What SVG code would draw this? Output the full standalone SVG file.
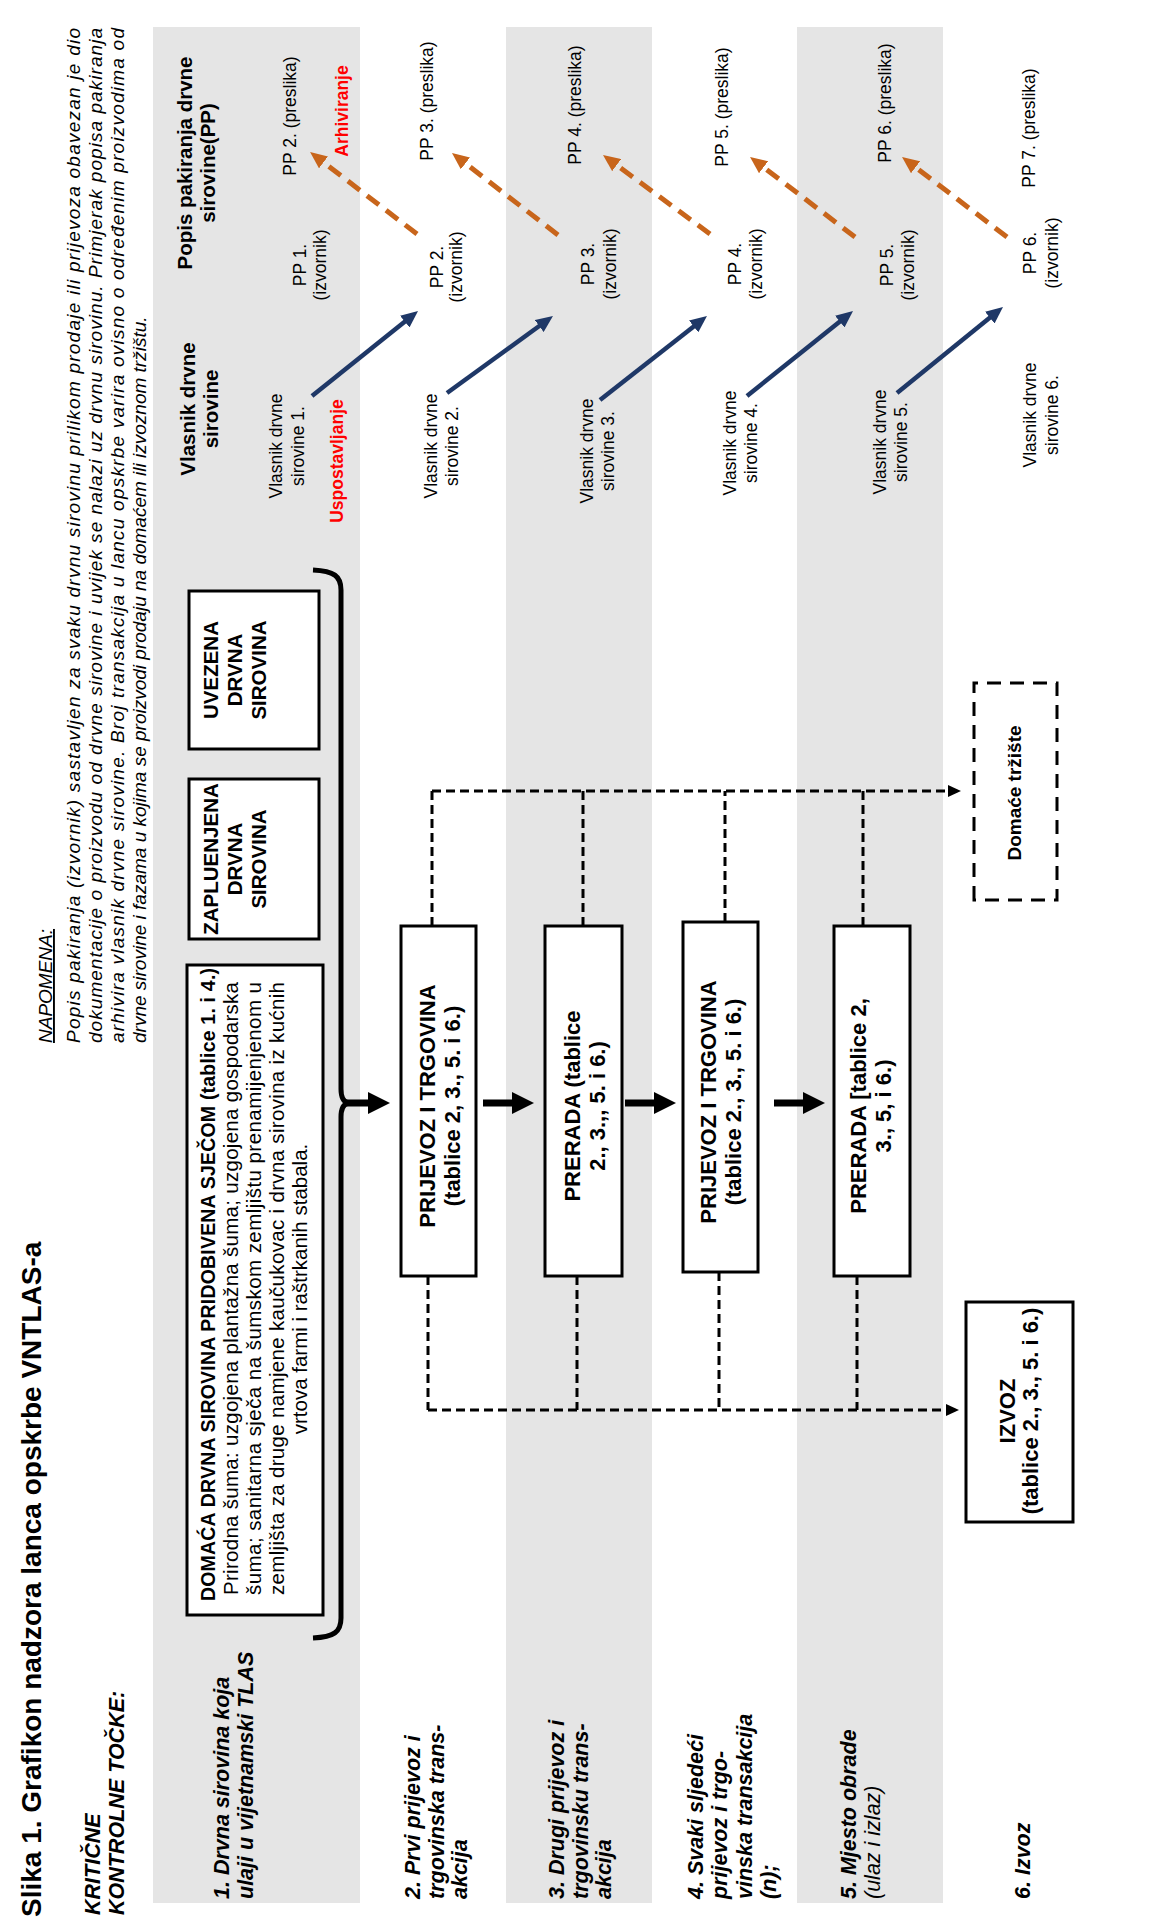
<svg xmlns="http://www.w3.org/2000/svg" width="1155" height="1929" viewBox="0 0 1155 1929">
<defs>
<style>
text{font-family:"Liberation Sans",Arial,Helvetica,sans-serif;fill:#000}
.band{fill:#e5e5e5}
.box{fill:#fff;stroke:#000;stroke-width:3}
.dbox{fill:#fff;stroke:#000;stroke-width:3;stroke-dasharray:14 9}
.lbl{font-size:21.5px;font-weight:bold;font-style:italic}
.hd{font-size:20.5px;font-weight:bold;text-anchor:middle}
.bx{font-size:22px;font-weight:bold;text-anchor:middle}
.bc{font-size:20.5px;font-weight:bold;text-anchor:middle}
.sm{font-size:17.5px;text-anchor:middle}
.red{fill:#ff0000;font-weight:bold;font-size:17.5px;text-anchor:middle}
.note{font-size:19px;font-style:italic}
.dash{fill:none;stroke:#000;stroke-width:3;stroke-dasharray:9 5}
.thick{fill:none;stroke:#000;stroke-width:7}
.navy{fill:none;stroke:#1f3867;stroke-width:4.5}
.orange{fill:none;stroke:#c8651b;stroke-width:5;stroke-dasharray:15 9}
</style>
<marker id="mThick" markerUnits="userSpaceOnUse" markerWidth="22" markerHeight="22" viewBox="0 0 22 22" refX="10" refY="11" orient="auto"><path d="M0,0 L22,11 L0,22 z" fill="#000"/></marker>
<marker id="mDash" markerUnits="userSpaceOnUse" markerWidth="13" markerHeight="12" viewBox="0 0 13 12" refX="5" refY="6" orient="auto"><path d="M0,0 L13,6 L0,12 z" fill="#000"/></marker>
<marker id="mNavy" markerUnits="userSpaceOnUse" markerWidth="17" markerHeight="15" viewBox="0 0 17 15" refX="9" refY="7.5" orient="auto"><path d="M0,0 L17,7.5 L0,15 z" fill="#1f3867"/></marker>
<marker id="mOrange" markerUnits="userSpaceOnUse" markerWidth="17" markerHeight="15" viewBox="0 0 17 15" refX="9" refY="7.5" orient="auto"><path d="M0,0 L17,7.5 L0,15 z" fill="#c8651b"/></marker>
</defs>
<rect width="1155" height="1929" fill="#fff"/>
<g transform="translate(0,1929) rotate(-90)">
  <g id="bands">
    <rect class="band" x="26" y="153" width="1876" height="207"/>
    <rect class="band" x="26" y="506" width="1876" height="146"/>
    <rect class="band" x="26" y="797" width="1876" height="146"/>
  </g>
  <g id="title">
    <text x="12" y="41" font-size="28" font-weight="bold">Slika 1. Grafikon nadzora lanca opskrbe VNTLAS-a</text>
    <text class="lbl" x="14" y="100">KRITIČNE</text>
    <text class="lbl" x="14" y="124">KONTROLNE TOČKE:</text>
  </g>
  <g id="note">
    <text class="note" x="886" y="52" text-decoration="underline">NAPOMENA:</text>
    <text class="note" x="886" y="80" textLength="1015" lengthAdjust="spacing">Popis pakiranja (izvornik) sastavljen za svaku drvnu sirovinu prilikom prodaje ili prijevoza obavezan je dio</text>
    <text class="note" x="886" y="102" textLength="1015" lengthAdjust="spacing">dokumentacije o proizvodu od drvne sirovine i uvijek se nalazi uz drvnu sirovinu. Primjerak popisa pakiranja</text>
    <text class="note" x="886" y="124" textLength="1015" lengthAdjust="spacing">arhivira vlasnik drvne sirovine. Broj transakcija u lancu opskrbe varira ovisno o određenim proizvodima od</text>
    <text class="note" x="886" y="146">drvne sirovine i fazama u kojima se proizvodi prodaju na domaćem ili izvoznom tržištu.</text>
  </g>
  <g id="row-labels">
    <text class="lbl" x="30" y="229">1. Drvna sirovina koja</text>
    <text class="lbl" x="30" y="253">ulaji u vijetnamski TLAS</text>
    <text class="lbl" x="30" y="420">2. Prvi prijevoz i</text>
    <text class="lbl" x="30" y="444">trgovinska trans-</text>
    <text class="lbl" x="30" y="467">akcija</text>
    <text class="lbl" x="30" y="564">3. Drugi prijevoz i</text>
    <text class="lbl" x="30" y="588">trgovinsku trans-</text>
    <text class="lbl" x="30" y="611">akcija</text>
    <text class="lbl" x="30" y="703">4. Svaki sljedeći</text>
    <text class="lbl" x="30" y="727">prijevoz i  trgo-</text>
    <text class="lbl" x="30" y="752">vinska transakcija</text>
    <text class="lbl" x="30" y="776">(n);</text>
    <text class="lbl" x="30" y="856">5. Mjesto obrade</text>
    <text x="30" y="880" font-size="21.5" font-style="italic">(ulaz i izlaz)</text>
    <text class="lbl" x="30" y="1030">6. Izvoz</text>
  </g>
  <g id="node-domaca">
    <rect class="box" x="314" y="187" width="650" height="136"/>
    <text x="328" y="215" font-size="19.5" font-weight="bold" textLength="633" lengthAdjust="spacing">DOMAĆA DRVNA SIROVINA PRIDOBIVENA SJEČOM (tablice 1. i 4.)</text>
    <text x="334" y="238" font-size="20.5" textLength="613" lengthAdjust="spacing">Prirodna šuma: uzgojena plantažna šuma; uzgojena gospodarska</text>
    <text x="334" y="261" font-size="20.5" textLength="613" lengthAdjust="spacing">šuma; sanitarna sječa na šumskom zemljištu prenamijenjenom u</text>
    <text x="334" y="284" font-size="20.5" textLength="613" lengthAdjust="spacing">zemljišta za druge namjene kaučukovac i drvna sirovina iz kućnih</text>
    <text x="640" y="307" font-size="20.5" text-anchor="middle">vrtova farmi i raštrkanih stabala.</text>
  </g>
  <g id="node-zapljenjena">
    <rect class="box" x="990" y="189" width="160" height="130"/>
    <text class="bc" x="1070" y="218">ZAPLUENJENA</text>
    <text class="bc" x="1070" y="242">DRVNA</text>
    <text class="bc" x="1070" y="266">SIROVINA</text>
  </g>
  <g id="node-uvezena">
    <rect class="box" x="1180" y="189" width="158" height="130"/>
    <text class="bc" x="1259" y="218">UVEZENA</text>
    <text class="bc" x="1259" y="242">DRVNA</text>
    <text class="bc" x="1259" y="266">SIROVINA</text>
  </g>
  <g id="node-prijevoz1">
    <rect class="box" x="653" y="401" width="350" height="75"/>
    <text class="bx" x="823" y="435">PRIJEVOZ I TRGOVINA</text>
    <text class="bx" x="823" y="460">(tablice 2, 3., 5. i 6.)</text>
  </g>
  <g id="node-prerada1">
    <rect class="box" x="653" y="545" width="350" height="77"/>
    <text class="bx" x="823" y="580">PRERADA (tablice</text>
    <text class="bx" x="823" y="605">2., 3.,, 5. i 6.)</text>
  </g>
  <g id="node-prijevoz2">
    <rect class="box" x="657" y="683" width="350" height="75"/>
    <text class="bx" x="827" y="716">PRIJEVOZ I TRGOVINA</text>
    <text class="bx" x="827" y="741">(tablice 2., 3., 5. i 6.)</text>
  </g>
  <g id="node-prerada2">
    <rect class="box" x="653" y="834" width="350" height="76"/>
    <text class="bx" x="823" y="866">PRERADA [tablice 2,</text>
    <text class="bx" x="823" y="891">3., 5, i 6.)</text>
  </g>
  <g id="node-domace-trziste">
    <rect class="dbox" x="1029" y="974" width="217" height="83"/>
    <text x="1136" y="1021" font-size="19" font-weight="bold" text-anchor="middle">Domaće tržište</text>
  </g>
  <g id="node-izvoz">
    <rect class="box" x="407" y="966" width="220" height="107"/>
    <text class="bx" x="518" y="1015">IZVOZ</text>
    <text class="bx" x="518" y="1038">(tablice 2., 3., 5. i 6.)</text>
  </g>
  <g id="headers">
    <text class="hd" x="1520" y="195">Vlasnik drvne</text>
    <text class="hd" x="1520" y="218">sirovine</text>
    <text class="hd" x="1766" y="192">Popis pakiranja drvne</text>
    <text class="hd" x="1766" y="215">sirovine(PP)</text>
  </g>
  <g id="row1-docs">
    <text class="sm" x="1483" y="282">Vlasnik drvne</text>
    <text class="sm" x="1483" y="304">sirovine 1.</text>
    <text class="red" x="1468" y="343">Uspostavljanje</text>
    <text class="sm" x="1664" y="306">PP 1.</text>
    <text class="sm" x="1664" y="326">(izvornik)</text>
    <text class="sm" x="1813" y="296">PP 2.  (preslika)</text>
    <text class="red" x="1818" y="348">Arhiviranje</text>
  </g>
  <g id="row2-docs">
    <text class="sm" x="1483" y="437">Vlasnik drvne</text>
    <text class="sm" x="1483" y="458">sirovine 2.</text>
    <text class="sm" x="1662" y="443">PP 2.</text>
    <text class="sm" x="1662" y="462">(izvornik)</text>
    <text class="sm" x="1828" y="433">PP 3.  (preslika)</text>
  </g>
  <g id="row3-docs">
    <text class="sm" x="1478" y="593">Vlasnik drvne</text>
    <text class="sm" x="1478" y="614">sirovine 3.</text>
    <text class="sm" x="1665" y="594">PP 3.</text>
    <text class="sm" x="1665" y="616">(izvornik)</text>
    <text class="sm" x="1824" y="581">PP 4. (preslika)</text>
  </g>
  <g id="row4-docs">
    <text class="sm" x="1486" y="736">Vlasnik drvne</text>
    <text class="sm" x="1486" y="757">sirovine 4.</text>
    <text class="sm" x="1665" y="741">PP 4.</text>
    <text class="sm" x="1665" y="762">(izvornik)</text>
    <text class="sm" x="1822" y="728">PP 5.  (preslika)</text>
  </g>
  <g id="row5-docs">
    <text class="sm" x="1487" y="886">Vlasnik drvne</text>
    <text class="sm" x="1487" y="907">sirovine 5.</text>
    <text class="sm" x="1664" y="893">PP 5.</text>
    <text class="sm" x="1664" y="914">(izvornik)</text>
    <text class="sm" x="1826" y="891">PP 6.  (preslika)</text>
  </g>
  <g id="row6-docs">
    <text class="sm" x="1514" y="1036">Vlasnik drvne</text>
    <text class="sm" x="1514" y="1058">sirovine 6.</text>
    <text class="sm" x="1676" y="1036">PP 6.</text>
    <text class="sm" x="1676" y="1058">(izvornik)</text>
    <text class="sm" x="1801" y="1035">PP 7.  (preslika)</text>
  </g>
  <g id="connectors">
    <path d="M291,313 C292,334 297,341 311,341 L812,341 Q824,341 826,348 Q828,341 840,341 L1339,341 C1353,341 1358,334 1359,313" fill="none" stroke="#000" stroke-width="5"/>
    <line class="thick" x1="826" y1="343" x2="826" y2="378" marker-end="url(#mThick)"/>
    <line class="thick" x1="826" y1="483" x2="826" y2="522" marker-end="url(#mThick)"/>
    <line class="thick" x1="826" y1="625" x2="826" y2="664" marker-end="url(#mThick)"/>
    <line class="thick" x1="826" y1="774" x2="826" y2="813" marker-end="url(#mThick)"/>
    <path class="dash" d="M1003,432 L1138,432"/>
    <path class="dash" d="M1003,583 L1138,583"/>
    <path class="dash" d="M1007,725 L1138,725"/>
    <path class="dash" d="M1003,863 L1138,863"/>
    <path class="dash" d="M1138,432 L1138,953" marker-end="url(#mDash)"/>
    <path class="dash" d="M653,428 L519,428"/>
    <path class="dash" d="M653,577 L519,577"/>
    <path class="dash" d="M657,719 L519,719"/>
    <path class="dash" d="M653,857 L519,857"/>
    <path class="dash" d="M519,428 L519,951" marker-end="url(#mDash)"/>
    <line class="navy" x1="1533" y1="312" x2="1613" y2="411.8" marker-end="url(#mNavy)"/>
    <line class="navy" x1="1536" y1="447" x2="1608.3" y2="546.5" marker-end="url(#mNavy)"/>
    <line class="navy" x1="1529" y1="600" x2="1608.1" y2="700.7" marker-end="url(#mNavy)"/>
    <line class="navy" x1="1533" y1="747" x2="1613" y2="846.8" marker-end="url(#mNavy)"/>
    <line class="navy" x1="1536" y1="897" x2="1617" y2="996.8" marker-end="url(#mNavy)"/>
    <line class="orange" x1="1695" y1="417" x2="1772.1" y2="316.4" marker-end="url(#mOrange)"/>
    <line class="orange" x1="1694" y1="558" x2="1771.1" y2="458.3" marker-end="url(#mOrange)"/>
    <line class="orange" x1="1695" y1="710" x2="1769.2" y2="609.4" marker-end="url(#mOrange)"/>
    <line class="orange" x1="1692" y1="855" x2="1767.2" y2="756.4" marker-end="url(#mOrange)"/>
    <line class="orange" x1="1692" y1="1007" x2="1767.2" y2="908.4" marker-end="url(#mOrange)"/>
  </g>
</g>
</svg>
